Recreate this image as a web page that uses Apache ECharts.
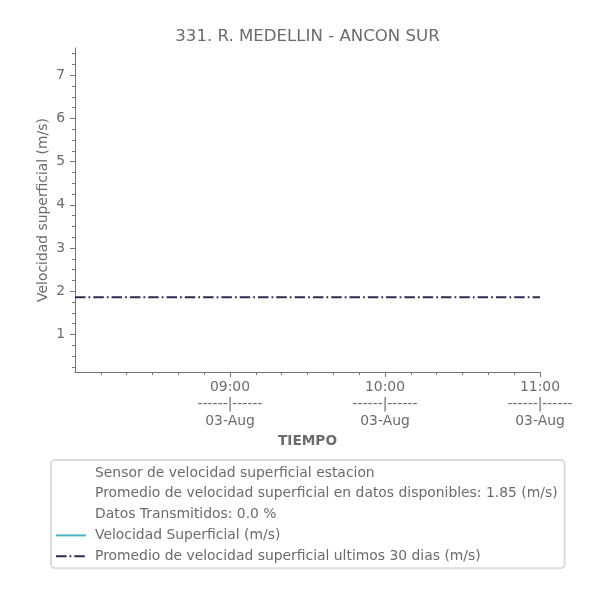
<!DOCTYPE html>
<html>
<head>
<meta charset="utf-8">
<script src="https://cdn.jsdelivr.net/npm/echarts@6/dist/echarts.min.js"></script>
<style>html,body{margin:0;padding:0;background:#fff}#c{width:600px;height:600px}</style>
</head>
<body>
<div id="c"></div>
<script>
// ---- data ----
const titleText = '331. R. MEDELLIN - ANCON SUR';
const xStart = '2024-08-03T08:00:00';
const xEnd = '2024-08-03T11:00:00';
const xTicks = ['2024-08-03T09:00:00', '2024-08-03T10:00:00', '2024-08-03T11:00:00'];
const xTickLabels = ['09:00\n------|------\n03-Aug', '10:00\n------|------\n03-Aug', '11:00\n------|------\n03-Aug'];
const xMinorTicks = [
  '2024-08-03T08:10:00','2024-08-03T08:20:00','2024-08-03T08:30:00','2024-08-03T08:40:00','2024-08-03T08:50:00',
  '2024-08-03T09:10:00','2024-08-03T09:20:00','2024-08-03T09:30:00','2024-08-03T09:40:00','2024-08-03T09:50:00',
  '2024-08-03T10:10:00','2024-08-03T10:20:00','2024-08-03T10:30:00','2024-08-03T10:40:00','2024-08-03T10:50:00'
];
const yMin = 0.13;
const yMax = 7.63;
const yTicks = [1, 2, 3, 4, 5, 6, 7];
const yMinorTicks = [0.25, 0.5, 0.75, 1.25, 1.5, 1.75, 2.25, 2.5, 2.75, 3.25, 3.5, 3.75, 4.25, 4.5, 4.75,
  5.25, 5.5, 5.75, 6.25, 6.5, 6.75, 7.25, 7.5];
// Velocidad superficial: no data transmitted (0.0 %)
const velTimes = [];
const velValues = [];
// 30-day average
const avgTimes = ['2024-08-03T08:00:00', '2024-08-03T11:00:00'];
const avgValues = [1.86, 1.86];
const legendNames = [
  'Sensor de velocidad superficial estacion',
  'Promedio de velocidad superficial en datos disponibles: 1.85 (m/s)',
  'Datos Transmitidos: 0.0 %',
  'Velocidad Superficial (m/s)',
  'Promedio de velocidad superficial ultimos 30 dias (m/s)'
];
const xLabel = 'TIEMPO';
const yLabel = 'Velocidad superficial (m/s)';

// ---- chart ----
const ts = s => new Date(s).getTime();
const TXT = '#6b6b6b';
const AX = '#777777';
const FONT = 'DejaVu Sans';
const xTickTs = xTicks.map(ts);

const dummy = name => ({
  name, type: 'line', data: [], symbol: 'none', silent: true,
  lineStyle: { opacity: 0 }, itemStyle: { opacity: 0 }
});

const chart = echarts.init(document.getElementById('c'), null, { renderer: 'canvas' });
chart.setOption({
  animation: false,
  backgroundColor: '#ffffff',
  title: {
    text: titleText, left: 302.5, textAlign: 'center', top: 23,
    textStyle: { color: TXT, fontFamily: FONT, fontSize: 16.6, fontWeight: 'normal' }
  },
  grid: { left: 75, right: 60, top: 48, bottom: 228, containLabel: false },
  xAxis: [
    {
      type: 'value', position: 'bottom', min: ts(xStart), max: ts(xEnd),
      name: xLabel, nameLocation: 'middle', nameGap: 62, nameMoveOverlap: false,
      nameTextStyle: { color: TXT, fontFamily: FONT, fontSize: 13.7, fontWeight: 'bold' },
      axisLine: { show: true, lineStyle: { color: AX, width: 1 } },
      axisTick: { show: true, length: 5, customValues: xTickTs, lineStyle: { color: AX } },
      axisLabel: {
        show: true, customValues: xTickTs, margin: 7,
        color: TXT, fontFamily: FONT, fontSize: 13.9, lineHeight: 17,
        formatter: v => { const i = xTickTs.indexOf(v); return i >= 0 ? xTickLabels[i] : ''; }
      },
      splitLine: { show: false }
    },
    {
      type: 'value', position: 'bottom', min: ts(xStart), max: ts(xEnd),
      axisLine: { show: false },
      axisTick: { show: true, length: 3, customValues: xMinorTicks.map(ts), lineStyle: { color: AX } },
      axisLabel: { show: false },
      splitLine: { show: false }
    }
  ],
  yAxis: [
    {
      type: 'value', position: 'left', min: yMin, max: yMax,
      name: yLabel, nameLocation: 'middle', nameGap: 25, nameRotate: 90, nameMoveOverlap: false,
      nameTextStyle: { color: TXT, fontFamily: FONT, fontSize: 13.9 },
      axisLine: { show: true, lineStyle: { color: AX, width: 1 } },
      axisTick: { show: true, length: 5, customValues: yTicks, lineStyle: { color: AX } },
      axisLabel: { show: true, customValues: yTicks, margin: 10, color: TXT, fontFamily: FONT, fontSize: 13.9 },
      splitLine: { show: false }
    },
    {
      type: 'value', position: 'left', min: yMin, max: yMax,
      axisLine: { show: false },
      axisTick: { show: true, length: 3, customValues: yMinorTicks, lineStyle: { color: AX } },
      axisLabel: { show: false },
      splitLine: { show: false }
    }
  ],
  legend: {
    orient: 'vertical', left: 51, top: 460,
    padding: [6, 7, 5, 4],
    backgroundColor: '#ffffff',
    borderColor: '#dcdcdc', borderWidth: 2, borderRadius: 4,
    itemWidth: 30, itemHeight: 14, itemGap: 6.8,
    selectedMode: false,
    itemStyle: { opacity: 0 },
    textStyle: { color: TXT, fontFamily: FONT, fontSize: 13.9, lineHeight: 14, padding: [0, 0, 0, 4] },
    data: legendNames
  },
  series: [
    dummy(legendNames[0]),
    dummy(legendNames[1]),
    dummy(legendNames[2]),
    {
      name: legendNames[3], type: 'line', symbol: 'none',
      data: velTimes.map((t, i) => [ts(t), velValues[i]]),
      lineStyle: { color: '#4ab5c6', width: 2 }, itemStyle: { color: '#4ab5c6' }
    },
    {
      name: legendNames[4], type: 'line', symbol: 'none',
      data: avgTimes.map((t, i) => [ts(t), avgValues[i]]),
      lineStyle: { color: '#2c2e4e', width: 2, type: [10.5, 3, 1.8, 3], cap: 'butt' },
      itemStyle: { color: '#2c2e4e' }
    }
  ]
});
</script>
</body>
</html>
